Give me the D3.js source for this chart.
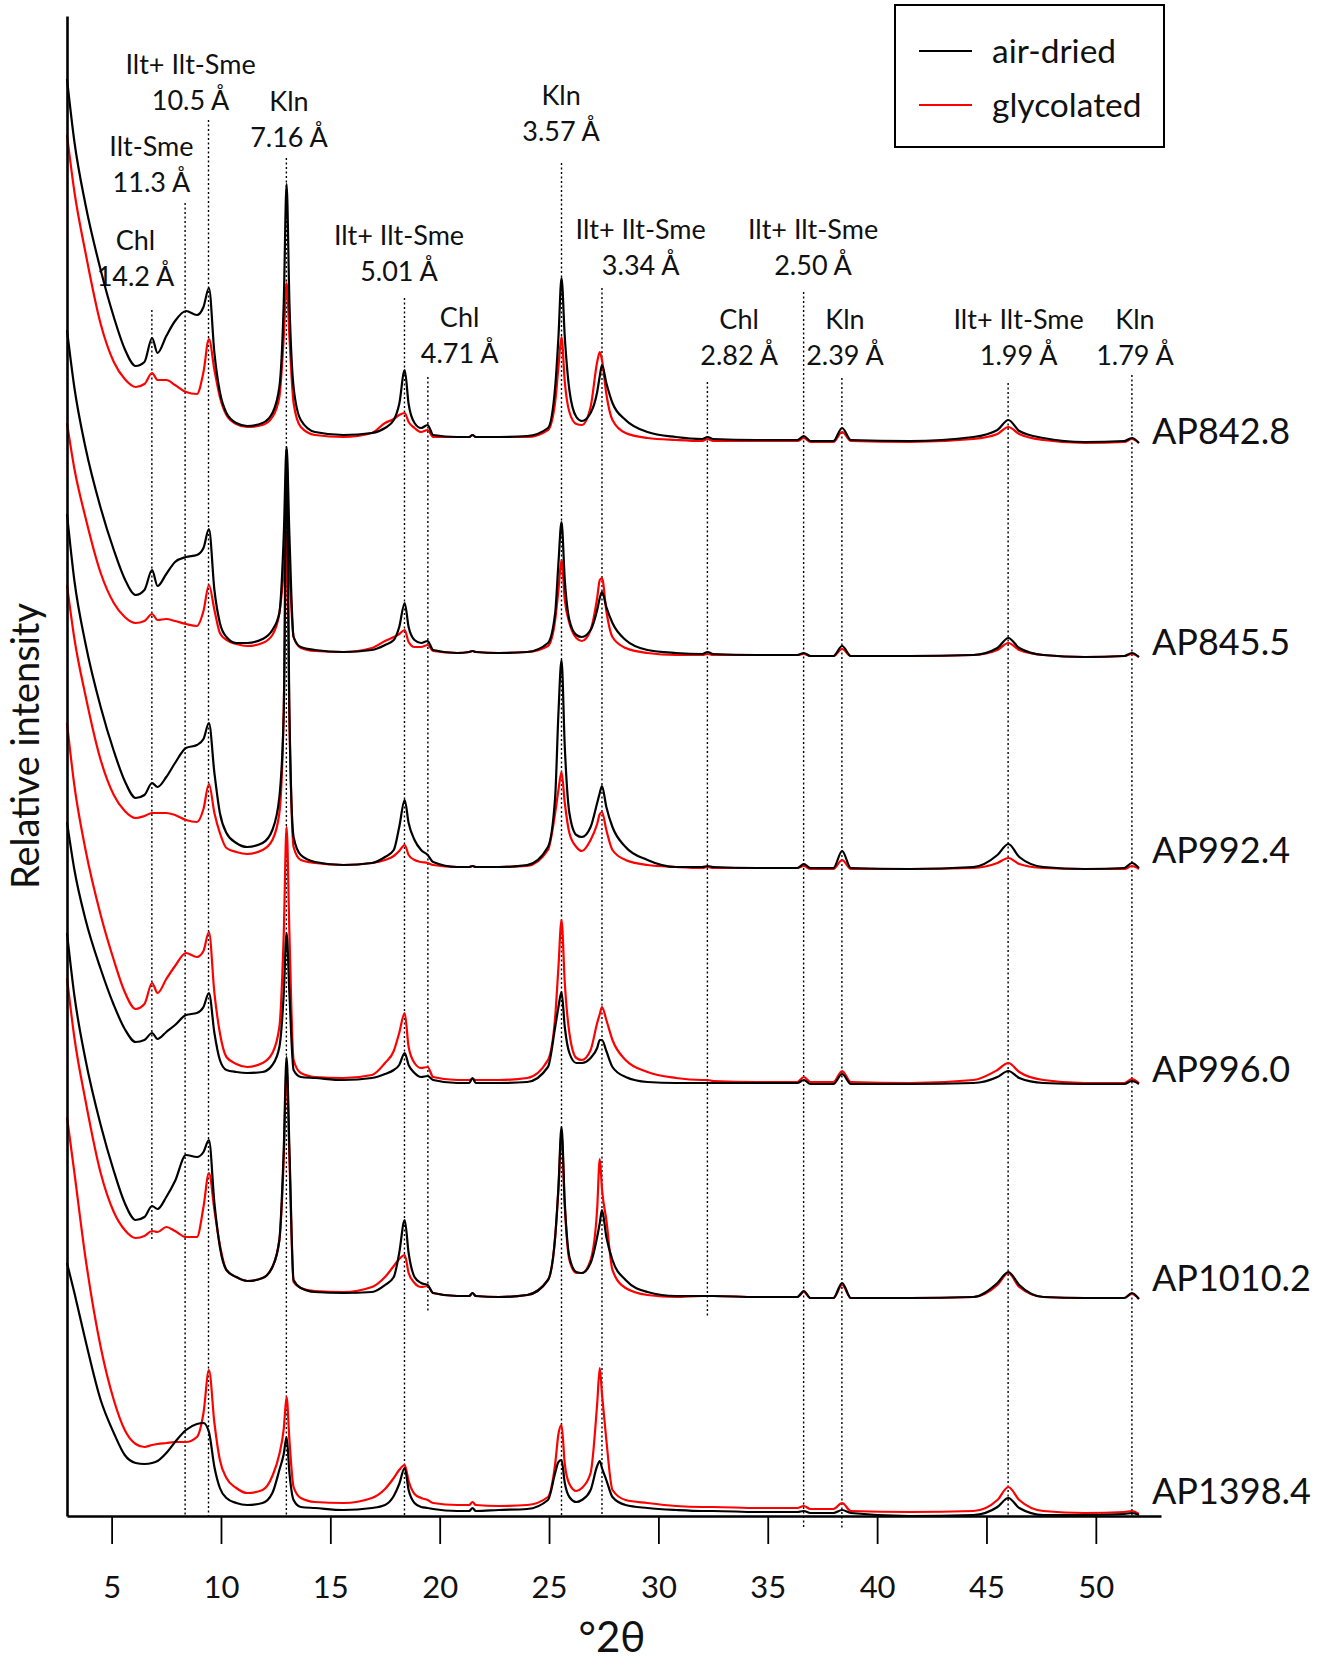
<!DOCTYPE html>
<html>
<head>
<meta charset="utf-8">
<script src="https://cdn.jsdelivr.net/npm/d3@7"></script>
<style>
  body { margin: 0; background: #fff; }
  svg text { font-family: Lato, "Open Sans", sans-serif; fill: #111; }
</style>
</head>
<body>
<svg id="chart" width="1330" height="1661"></svg>
<script>
// XRD patterns, air-dried vs glycolated, stacked by sample

// 2theta sampling points (deg)
var twoTheta = [2.96, 3.3, 3.8, 4.5, 5.1, 5.6, 6.1, 6.5, 6.85, 7.1, 7.5, 7.9, 8.4, 8.9, 9.2, 9.45,
  9.7, 9.95, 10.25, 10.7, 11.2, 11.9, 12.35, 12.67, 12.87, 13.0, 13.13, 13.32, 13.65,
  14.3, 15.6, 16.9, 17.5, 17.9, 18.15, 18.4, 18.58, 18.85, 19.15, 19.45, 19.7,
  20.8, 21.35, 21.5, 21.65, 22.7, 24.0,
  24.95, 25.28, 25.43, 25.57, 25.72, 25.93, 26.25, 26.5, 26.9, 27.2, 27.32, 27.42, 27.62, 27.9, 28.5,
  29.5, 30.8, 32.0, 32.25, 32.5, 34.5, 36.35, 36.65, 36.95, 38.0, 38.4, 38.8, 41.5, 44.4, 45.5, 46.0, 46.5, 47.6, 49.5, 51.3, 51.65, 51.97];

var samples = ["AP842.8", "AP845.5", "AP992.4", "AP996.0", "AP1010.2", "AP1398.4"];
// vertical offset of each pattern (relative intensity units)
var offsets = [1074, 860, 647, 432, 217, 2];

// intensities above each sample's offset
var airDried = [
  [363, 300, 238, 172, 125, 93, 76, 80, 104, 89, 106, 121, 131, 127, 135, 154,
   89, 50, 29, 19, 16, 19, 29, 55, 139, 258, 139, 55, 22,
   10, 7, 9, 14, 22, 38, 72, 38, 19, 14, 17, 7,
   5, 5, 7, 5, 5, 6,
   14, 55, 105, 164, 105, 52, 25, 21, 29, 50, 66, 77, 59, 39, 22,
   10, 5, 3, 5, 3, 2, 2, 6, 1, 1, 14, 2, 1, 5, 12, 22, 11, 4, 0, 1, 4, -1],
  [326, 268, 209, 148, 106, 77, 61, 66, 86, 70, 82, 94, 99, 101, 108, 127,
   66, 33, 19, 13, 13, 17, 26, 43, 120, 209, 120, 19, 9,
   6, 4, 6, 11, 16, 29, 53, 29, 16, 13, 15, 6,
   3, 4, 5, 4, 3, 4,
   13, 43, 93, 134, 76, 36, 21, 19, 26, 46, 58, 64, 49, 33, 16,
   6, 3, 2, 4, 2, 1, 1, 3, 0, 0, 10, 0, 0, 1, 8, 18, 8, 1, -1, 0, 3, -1],
  [355, 288, 226, 162, 118, 88, 71, 74, 86, 82, 92, 106, 121, 124, 130, 146,
   96, 56, 36, 26, 22, 26, 39, 72, 156, 420, 156, 32, 14,
   7, 4, 6, 12, 19, 42, 69, 46, 29, 19, 14, 7,
   2, 2, 3, 2, 2, 4,
   22, 72, 156, 209, 122, 56, 34, 32, 42, 66, 76, 83, 62, 42, 22,
   9, 2, 2, 3, 2, 1, 1, 5, 1, 1, 18, 1, 0, 2, 14, 25, 12, 2, 0, 1, 6, 1],
  [262, 214, 165, 115, 79, 55, 42, 44, 51, 45, 52, 59, 69, 71, 77, 91,
   51, 24, 14, 12, 11, 12, 19, 37, 90, 151, 90, 14, 7,
   6, 4, 6, 10, 14, 19, 31, 19, 11, 7, 8, 4,
   1, 1, 6, 1, 1, 2,
   17, 57, 77, 92, 57, 31, 21, 21, 26, 36, 44, 44, 33, 17, 7,
   2, 1, 1, 1, 1, 1, 1, 4, 0, 0, 10, 0, 0, 1, 7, 13, 6, 1, 0, 0, 3, 0],
  [366, 303, 240, 174, 128, 96, 79, 82, 93, 90, 102, 118, 144, 142, 147, 159,
   96, 52, 29, 22, 18, 21, 32, 59, 150, 242, 150, 19, 11,
   7, 6, 7, 14, 22, 46, 79, 46, 22, 16, 14, 6,
   3, 3, 6, 3, 2, 4,
   19, 62, 112, 172, 96, 42, 27, 26, 36, 62, 76, 89, 62, 39, 19,
   7, 3, 3, 3, 3, 2, 2, 8, 1, 1, 16, 1, 1, 2, 16, 27, 14, 2, 1, 1, 6, 0],
  [251, 221, 174, 114, 81, 59, 51, 50, 51, 53, 61, 72, 84, 90, 91, 82,
   47, 26, 16, 11, 9, 11, 21, 44, 60, 77, 41, 14, 7,
   6, 4, 6, 9, 18, 30, 46, 24, 11, 7, 6, 5,
   3, 3, 6, 3, 4, 5,
   14, 41, 52, 54, 31, 17, 12, 14, 24, 48, 53, 46, 34, 17, 9,
   6, 4, 3, 3, 3, 2, 2, 3, 1, 1, 4, 1, -2, -1, 7, 16, 6, -1, -1, 0, 1, -1]
];

var glycolated = [
  [307, 250, 190, 118, 80, 63, 55, 58, 69, 62, 62, 57, 50, 48, 70, 103,
   72, 45, 27, 18, 15, 17, 25, 45, 105, 159, 105, 39, 15,
   7, 5, 9, 19, 23, 27, 29, 20, 14, 10, 12, 5,
   5, 5, 7, 5, 5, 5,
   12, 40, 75, 105, 60, 30, 18, 17, 35, 80, 90, 82, 48, 22, 9,
   4, 2, 1, 3, 1, 1, 1, 4, 0, 0, 10, 1, 0, 3, 8, 15, 8, 2, -1, 0, 3, -1],
  [233, 187, 139, 83, 53, 39, 33, 35, 42, 36, 37, 35, 32, 30, 45, 71,
   46, 23, 16, 12, 10, 13, 21, 43, 85, 124, 85, 19, 8,
   5, 4, 8, 15, 19, 22, 26, 14, 9, 9, 11, 5,
   3, 4, 5, 4, 3, 4,
   10, 36, 66, 96, 56, 33, 18, 15, 26, 58, 76, 78, 45, 19, 8,
   3, 1, 1, 2, 1, 1, 1, 2, 0, 0, 7, 0, 0, 1, 6, 13, 6, 1, -1, 0, 2, -1],
  [284, 230, 174, 109, 74, 58, 51, 53, 56, 56, 56, 54, 49, 47, 60, 85,
   56, 36, 21, 17, 15, 19, 29, 56, 160, 336, 150, 22, 9,
   6, 4, 6, 9, 13, 18, 24, 14, 9, 7, 6, 4,
   2, 2, 3, 2, 2, 3,
   19, 56, 79, 97, 66, 36, 22, 18, 29, 45, 55, 57, 39, 19, 9,
   4, 2, 1, 2, 1, 1, 1, 3, 0, 0, 9, 0, 0, 1, 6, 11, 5, 1, 0, 0, 3, 0],
  [361, 298, 235, 169, 124, 92, 75, 80, 101, 91, 105, 118, 131, 127, 133, 152,
   91, 51, 27, 20, 17, 21, 31, 57, 150, 257, 150, 24, 11,
   7, 6, 9, 21, 33, 51, 71, 37, 21, 16, 17, 7,
   4, 4, 5, 4, 4, 6,
   24, 67, 117, 164, 101, 51, 26, 24, 34, 61, 70, 77, 64, 44, 24,
   12, 6, 4, 4, 3, 2, 2, 7, 2, 2, 13, 2, 1, 4, 14, 21, 12, 4, 1, 1, 5, 1],
  [321, 261, 199, 126, 87, 69, 61, 63, 68, 67, 72, 68, 62, 62, 92, 126,
   89, 54, 29, 22, 18, 21, 32, 59, 140, 230, 140, 17, 11,
   8, 7, 12, 22, 33, 40, 44, 26, 16, 12, 13, 6,
   3, 3, 6, 3, 2, 4,
   19, 62, 110, 165, 92, 39, 26, 26, 39, 90, 140, 110, 79, 29, 11,
   4, 2, 3, 3, 3, 2, 2, 7, 1, 1, 14, 1, 1, 2, 14, 26, 12, 2, 1, 1, 5, 0],
  [397, 341, 257, 167, 114, 84, 70, 67, 69, 70, 71, 72, 72, 77, 101, 144,
   91, 54, 36, 26, 21, 24, 38, 60, 85, 117, 74, 27, 16,
   12, 11, 16, 25, 36, 44, 49, 33, 20, 16, 14, 11,
   9, 9, 12, 9, 8, 9,
   17, 50, 80, 89, 50, 30, 23, 26, 41, 110, 146, 120, 74, 24, 14,
   11, 8, 7, 7, 7, 6, 6, 8, 5, 5, 11, 3, 2, 3, 14, 27, 14, 3, 1, 2, 3, 0]
];

// reference peaks
var peakPhase = ["Chl", "Ilt-Sme", "Ilt+ Ilt-Sme", "Kln", "Ilt+ Ilt-Sme", "Chl", "Kln",
  "Ilt+ Ilt-Sme", "Chl", "Ilt+ Ilt-Sme", "Kln", "Ilt+ Ilt-Sme", "Kln"];
var peakD = ["14.2 Å", "11.3 Å", "10.5 Å", "7.16 Å", "5.01 Å", "4.71 Å", "3.57 Å",
  "3.34 Å", "2.82 Å", "2.50 Å", "2.39 Å", "1.99 Å", "1.79 Å"];
var peakTheta = [6.84, 8.36, 9.43, 12.99, 18.39, 19.46, 25.57, 27.42, 32.24, 36.64, 38.39, 45.99, 51.65];
// extent of each dotted marker [top, bottom] in intensity units
var peakSpan = [[1206, 276], [1313, 0], [1396, 0], [1358, 0], [1218, 0], [1139, 203], [1353, 0],
  [1228, 0], [1134, 198], [1224, -12], [1138, -12], [1133, 0], [1141, 0]];
// label anchor [2theta, level]
var labelAt = [[6.09, 1240], [6.82, 1334], [8.61, 1416], [13.11, 1379], [18.14, 1245], [20.91, 1163],
  [25.55, 1385], [29.19, 1251], [33.69, 1161], [37.07, 1251], [38.53, 1161], [46.47, 1161], [51.79, 1161]];
// sample name level above its offset
var nameLift = [11, 14, 19, 15, 21, 23];

var xTicks = [5, 10, 15, 20, 25, 30, 35, 40, 45, 50];

var svg = d3.select("#chart");

var x = d3.scaleLinear().domain([2.96, 52.98]).range([67, 1161]);
var y = d3.scaleLinear().domain([0, 1500]).range([1516, 16]);

// dotted peak markers
svg.append("g")
  .selectAll("line")
  .data(peakTheta)
  .enter()
  .append("line")
  .attr("x1", function (d) { return x(d); })
  .attr("x2", function (d) { return x(d); })
  .attr("y1", function (d, i) { return y(peakSpan[i][0]); })
  .attr("y2", function (d, i) { return y(peakSpan[i][1]); })
  .attr("stroke", "#000")
  .attr("stroke-width", 1.4)
  .attr("stroke-dasharray", "2,2.5");

// peak labels
var lab = svg.append("g").attr("font-size", 27).attr("text-anchor", "middle");
peakPhase.forEach(function (p, i) {
  var lx = x(labelAt[i][0]);
  var ly = y(labelAt[i][1]) + 10;
  lab.append("text").attr("x", lx).attr("y", ly - 36).text(p);
  lab.append("text").attr("x", lx).attr("y", ly).text(peakD[i]);
});

// patterns
var line = d3.line()
  .x(function (d, i) { return x(twoTheta[i]); })
  .y(function (d) { return y(d); })
  .curve(d3.curveMonotoneX);

var curves = svg.append("g").attr("fill", "none").attr("stroke-width", 2.2).attr("stroke-linejoin", "round");
samples.forEach(function (s, i) {
  curves.append("path")
    .attr("d", line(glycolated[i].map(function (v) { return v + offsets[i]; })))
    .attr("stroke", "#ff0000");
  curves.append("path")
    .attr("d", line(airDried[i].map(function (v) { return v + offsets[i]; })))
    .attr("stroke", "#000");
});

// sample names
svg.append("g")
  .selectAll("text")
  .data(samples)
  .enter()
  .append("text")
  .attr("x", 1152)
  .attr("y", function (d, i) { return y(offsets[i] + nameLift[i]) + 13; })
  .attr("font-size", 36)
  .text(function (d) { return d; });

// axes
var xAxis = svg.append("g")
  .attr("transform", "translate(0," + y(0) + ")")
  .call(d3.axisBottom(x).tickValues(xTicks).tickSize(28).tickSizeOuter(0).tickPadding(32));
xAxis.select(".domain").attr("stroke-width", 2.6);
xAxis.selectAll(".tick line").attr("stroke-width", 1.8);
xAxis.selectAll("text").attr("font-size", 31).attr("font-family", "Lato, sans-serif").attr("fill", "#111");

var yAxis = svg.append("g")
  .attr("transform", "translate(" + x.range()[0] + ",0)")
  .call(d3.axisLeft(y).tickValues([]).tickSizeOuter(0));
yAxis.select(".domain").attr("stroke-width", 2.6);

svg.append("text")
  .attr("transform", "translate(24,746) rotate(-90)")
  .attr("text-anchor", "middle")
  .attr("dominant-baseline", "central")
  .attr("font-size", 38)
  .text("Relative intensity");

svg.append("text")
  .attr("x", 612)
  .attr("y", 1652)
  .attr("text-anchor", "middle")
  .attr("font-size", 42)
  .text("°2θ");

// legend
var legend = svg.append("g");
legend.append("rect")
  .attr("x", 895).attr("y", 5).attr("width", 269).attr("height", 142)
  .attr("fill", "#fff").attr("stroke", "#000").attr("stroke-width", 2);
[["air-dried", "#000"], ["glycolated", "#ff0000"]].forEach(function (d, i) {
  var ly = 51 + i * 54;
  legend.append("line")
    .attr("x1", 919).attr("x2", 972).attr("y1", ly).attr("y2", ly)
    .attr("stroke", d[1]).attr("stroke-width", 2.2);
  legend.append("text")
    .attr("x", 992).attr("y", ly + 12)
    .attr("font-size", 33.5)
    .text(d[0]);
});
</script>
</body>
</html>
